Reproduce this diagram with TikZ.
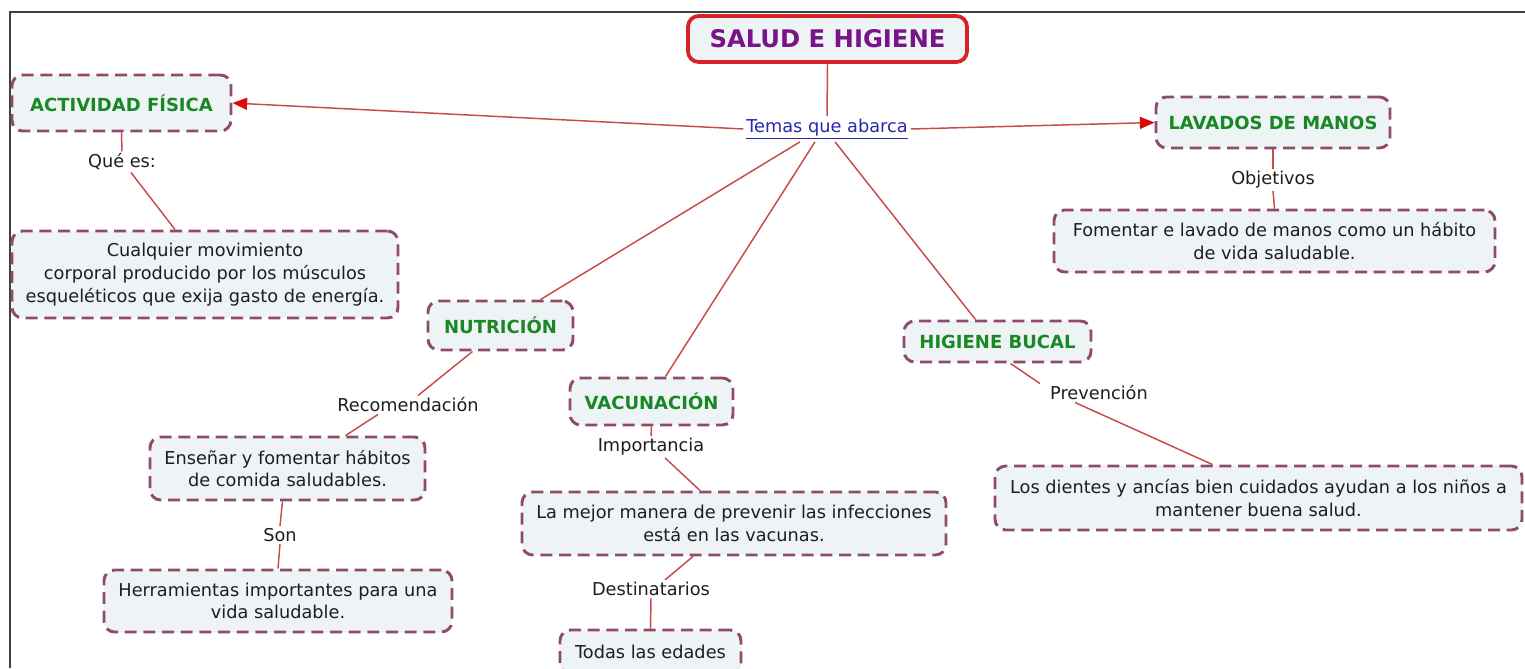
\documentclass[tikz,border=0pt]{standalone}
\usepackage{fontspec}
\setmainfont{DejaVu Sans}
\usetikzlibrary{calc,arrows.meta}
\definecolor{boxborder}{RGB}{142,75,110}
\definecolor{boxfill}{RGB}{238,243,245}
\definecolor{conn}{RGB}{200,75,75}
\definecolor{arrowred}{RGB}{220,10,10}
\definecolor{titlered}{RGB}{215,35,40}
\definecolor{titlepurple}{RGB}{120,20,135}
\definecolor{topicgreen}{RGB}{25,135,35}
\definecolor{linkblue}{RGB}{40,40,170}
\definecolor{txt}{RGB}{30,30,30}
\newcommand\bodyfont{\fontsize{13.3pt}{17pt}\selectfont}
\newcommand\topicfont{\fontsize{13.5pt}{17pt}\selectfont\bfseries}
\tikzset{
  dashbox/.style={draw=boxborder, line width=2.2pt, dash pattern=on 9pt off 5pt,
    fill=boxfill, rounded corners=8pt, align=center, inner sep=0pt,
    text=txt, font=\bodyfont},
  topic/.style={dashbox, text=topicgreen, font=\topicfont},
  bsize/.style 2 args={minimum width=#1*0.75pt, minimum height=#2*0.75pt},
  lbl/.style={text=txt, font=\bodyfont, inner sep=1.5pt},
  conline/.style={draw=conn, line width=1.1pt},
  arrowline/.style={draw=conn, line width=1.1pt, -{Triangle[length=11pt,width=9pt,color=arrowred]}}
}
\begin{document}
\begin{tikzpicture}[x=0.75pt,y=-0.75pt]
\path[use as bounding box] (0,0) rectangle (1525,668);
\clip (0,0) rectangle (1525,668);
\fill[white] (0,0) rectangle (1525,668);
% frame
\draw[line width=1.2pt, draw=black!75] (10,668) coordinate (fl) -- (10,12) coordinate (fc) -- (1525,12) coordinate (fr);

% title
\node[draw=titlered, line width=2.8pt, rounded corners=8pt, fill=boxfill, bsize={279}{46},
  text=titlepurple, font=\fontsize{18.2pt}{22pt}\selectfont\bfseries, inner sep=0pt] (title) at (827.5,39) {SALUD E HIGIENE};
\node[text=linkblue, font=\bodyfont, inner sep=2pt] (temas) at (827,129) {\underline{Temas que abarca}};

% topics
\node[topic, bsize={219}{56}] (af) at (121.5,103) {ACTIVIDAD FÍSICA};
\node[topic, bsize={234}{51}] (lav) at (1273,122.5) {LAVADOS DE MANOS};
\node[topic, bsize={145}{49}] (nut) at (500.5,325.5) {NUTRICIÓN};
\node[topic, bsize={163}{47}] (vac) at (651.5,401.5) {VACUNACIÓN};
\node[topic, bsize={187}{41}] (hb) at (997.5,341.5) {HIGIENE BUCAL};

% details
\node[dashbox, bsize={386}{87}] (cual) at (205,274.5) {Cualquier movimiento\\ corporal producido por los músculos\\esqueléticos que exija gasto de energía.};
\node[dashbox, bsize={441}{62}] (fom) at (1274.5,241) {Fomentar e lavado de manos como un hábito\\de vida saludable.};
\node[dashbox, bsize={275}{63}] (ens) at (287.5,468.5) {Enseñar y fomentar hábitos\\de comida saludables.};
\node[dashbox, bsize={348}{62}] (herr) at (278,601) {Herramientas importantes para una\\vida saludable.};
\node[dashbox, bsize={424}{63}] (mej) at (734,523.5) {La mejor manera de prevenir las infecciones\\está en las vacunas.};
\node[dashbox, bsize={181}{44}] (todas) at (650.5,652) {Todas las edades};
\node[dashbox, bsize={527}{64}] (dien) at (1258.5,498) {Los dientes y ancías bien cuidados ayudan a los niños a\\mantener buena salud.};

% linking labels
\node[lbl] (que) at (122,162) {Qué es:};
\node[lbl] (obj) at (1273,180) {Objetivos};
\node[lbl] (recom) at (408,405) {Recomendación};
\node[lbl] (son) at (280,535) {Son};
\node[lbl] (imp) at (651,447) {Importancia};
\node[lbl] (dest) at (651,589) {Destinatarios};
\node[lbl] (prev) at (1099,393) {Prevención};

% connectors from title
\draw[conline] (title.south) -- (temas.north);
\draw[arrowline] (temas.west) -- (af.east);
\draw[arrowline] (temas.east) -- (lav.west);
\draw[conline] ($(temas.south)+(-27,0)$) -- ($(nut.north)+(40,0)$);
\draw[conline] ($(temas.south)+(-12,0)$) -- ($(vac.north)+(14,0)$);
\draw[conline] ($(temas.south)+(8,0)$) -- ($(hb.north)+(-22,0)$);

% branches
\draw[conline] (af.south) -- (que.north);
\draw[conline] ($(que.south)+(9,0)$) -- ($(cual.north)+(-30,0)$);

\draw[conline] (lav.south) -- (obj.north);
\draw[conline] (obj.south) -- (fom.north);

\draw[conline] ($(nut.south)+(-28,0)$) -- ($(recom.north)+(10,0)$);
\draw[conline] ($(recom.south)+(-30,0)$) -- ($(ens.north)+(58,0)$);
\draw[conline] ($(ens.south)+(-5,0)$) -- (son.north);
\draw[conline] (son.south) -- (herr.north);

\draw[conline] (vac.south) -- (imp.north);
\draw[conline] ($(imp.south)+(14,0)$) -- ($(mej.north)+(-34,0)$);
\draw[conline] ($(mej.south)+(-41,0)$) -- ($(dest.north)+(14,0)$);
\draw[conline] (dest.south) -- (todas.north);

\draw[conline] ($(hb.south)+(13,0)$) -- ($(prev.north west)+(-8,0)$);
\draw[conline] ($(prev.south)+(-24,0)$) -- ($(dien.north)+(-46,0)$);
\end{tikzpicture}
\end{document}
